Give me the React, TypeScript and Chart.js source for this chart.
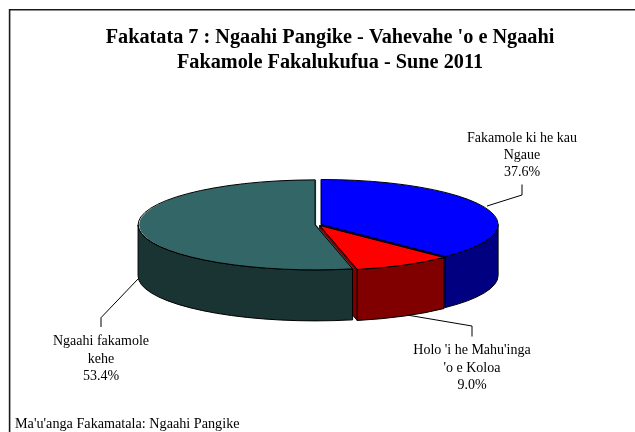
import React, { useEffect, useRef } from "react";
import { Chart, registerables } from "chart.js";

Chart.register(...registerables);

const titleLines = ["Fakatata 7 : Ngaahi Pangike - Vahevahe 'o e Ngaahi", "Fakamole Fakalukufua - Sune 2011"];
const sourceText = "Ma'u'anga Fakamatala: Ngaahi Pangike";
const categories = ["Fakamole ki he kau Ngaue", "Holo 'i he Mahu'inga 'o e Koloa", "Ngaahi fakamole kehe"];
const labelLines = [["Fakamole ki he kau", "Ngaue"], ["Holo 'i he Mahu'inga", "'o e Koloa"], ["Ngaahi fakamole", "kehe"]];
const values = [37.6, 9.0, 53.4];
const topColors = ["#0000FF", "#FF0000", "#336666"];
const sideColors = ["#000080", "#800000", "#1A3333"];

const FONT = '"Liberation Serif"';
const CX = 318.2, CY = 224.8, RX = 177, RY = 45, DEPTH = 51, SHIFT = 3;
const labelPos = [[522, 138], [472, 350.7], [101, 341.6]];
const leaders = [
  [[487, 206], [522, 195], [522, 184.5]],
  [[407, 315], [472, 326], [472, 336.5]],
  [[138, 279], [101, 317.7], [101, 327]],
];

function geometry(el: any) {
  const sx = RX / el.outerRadius, sy = RY / el.outerRadius;
  const h = (el.startAngle + el.endAngle) / 2;
  return { sx, sy, a: el.startAngle, b: el.endAngle, x: CX + Math.cos(h) * SHIFT * sx, y: CY + Math.sin(h) * SHIFT * sy };
}

function center(chart: any) {
  const { left, right, top, bottom } = chart.chartArea;
  return { x: (left + right) / 2, y: (top + bottom) / 2 };
}

const pie3d = {
  id: "pie3d",
  afterDatasetsUpdate(chart: any) {
    // explode each slice along its middle angle by moving the library's own arc element
    const base = center(chart);
    chart.getDatasetMeta(0).data.forEach((el: any) => {
      const h = (el.startAngle + el.endAngle) / 2;
      const fix = 1 - Math.sin(Math.min(Math.PI, el.circumference || 0));
      el.x = base.x + Math.cos(h) * (SHIFT - fix);
      el.y = base.y + Math.sin(h) * (SHIFT - fix);
    });
  },
  beforeDraw(chart: any) {
    const c = chart.ctx;
    c.save();
    c.strokeStyle = "#1a1a1a";
    c.lineWidth = 1.6;
    c.beginPath();
    c.moveTo(9.6, 440);
    c.lineTo(9.6, 9.8);
    c.lineTo(645, 9.8);
    c.stroke();
    c.restore();
  },
  beforeDatasetsDraw(chart: any) {
    const c = chart.ctx;
    const arcs = chart.getDatasetMeta(0).data;
    c.save();
    c.strokeStyle = "#000";
    c.lineWidth = 1;
    c.lineJoin = "round";
    arcs.forEach((el: any, i: number) => {
      const g = geometry(el);
      c.fillStyle = sideColors[i];
      // cut face at the slice's clockwise end
      if (Math.sin(g.b) > 0 && Math.cos(g.b) > -0.9) {
        const ex = g.x + RX * Math.cos(g.b), ey = g.y + RY * Math.sin(g.b);
        c.beginPath();
        c.moveTo(g.x, g.y);
        c.lineTo(ex, ey);
        c.lineTo(ex, ey + DEPTH);
        c.lineTo(g.x, g.y + DEPTH);
        c.closePath();
        c.fill();
        c.stroke();
      }
      // outer wall, front half only
      const a = Math.max(g.a, 0), b = Math.min(g.b, Math.PI);
      if (b > a) {
        c.beginPath();
        c.ellipse(g.x, g.y, RX, RY, 0, a, b);
        c.ellipse(g.x, g.y + DEPTH, RX, RY, 0, b, a, true);
        c.closePath();
        c.fill();
        c.stroke();
      }
    });
    c.restore();
  },
  beforeDatasetDraw(chart: any) {
    const c = chart.ctx;
    const g = geometry(chart.getDatasetMeta(0).data[0]);
    const base = center(chart);
    c.save();
    c.translate(CX, CY);
    c.scale(g.sx, g.sy);
    c.translate(-base.x, -base.y);
  },
  afterDatasetDraw(chart: any) {
    chart.ctx.restore();
  },
  afterDatasetsDraw(chart: any) {
    const c = chart.ctx;
    const arcs = chart.getDatasetMeta(0).data;
    c.save();
    c.strokeStyle = "#000";
    c.lineWidth = 1;
    c.lineJoin = "round";
    arcs.forEach((el: any) => {
      const g = geometry(el);
      c.beginPath();
      c.moveTo(g.x, g.y);
      c.ellipse(g.x, g.y, RX, RY, 0, g.a, g.b);
      c.closePath();
      c.stroke();
    });
    leaders.forEach((pts) => {
      c.beginPath();
      pts.forEach((p, k) => (k ? c.lineTo(p[0], p[1]) : c.moveTo(p[0], p[1])));
      c.stroke();
    });
    c.fillStyle = "#000";
    c.font = `14px ${FONT}`;
    c.textAlign = "center";
    c.textBaseline = "middle";
    labelLines.forEach((lines, i) => {
      const all = [...lines, values[i].toFixed(1) + "%"];
      all.forEach((t, k) => c.fillText(t, labelPos[i][0], labelPos[i][1] + k * 17.3));
    });
    c.font = `14.2px ${FONT}`;
    c.textAlign = "left";
    c.textBaseline = "alphabetic";
    c.fillText(sourceText, 15, 427.5);
    c.restore();
  },
};

export default function App() {
  const ref = useRef<HTMLCanvasElement | null>(null);
  useEffect(() => {
    const chart = new Chart(ref.current as HTMLCanvasElement, {
      type: "pie",
      data: {
        labels: categories,
        datasets: [{ data: values, backgroundColor: topColors, borderWidth: 0, clip: false } as any],
      },
      options: {
        responsive: false,
        animation: false,
        layout: { padding: { left: 25, right: 0, top: 0, bottom: 10 } },
        plugins: {
          legend: { display: false },
          tooltip: { enabled: false },
          title: {
            display: true,
            text: titleLines,
            fullSize: false,
            color: "#000",
            font: { family: FONT, size: 20.25, weight: "bold" },
            padding: { top: 26, bottom: 10 },
          },
        },
      } as any,
      plugins: [pie3d],
    });
    return () => chart.destroy();
  }, []);
  return (
    <div style={{ position: "fixed", left: 0, top: 0, width: 635, height: 432, overflow: "hidden", background: "#fff" }}>
      <canvas ref={ref} width={635} height={432} style={{ display: "block" }} />
    </div>
  );
}
